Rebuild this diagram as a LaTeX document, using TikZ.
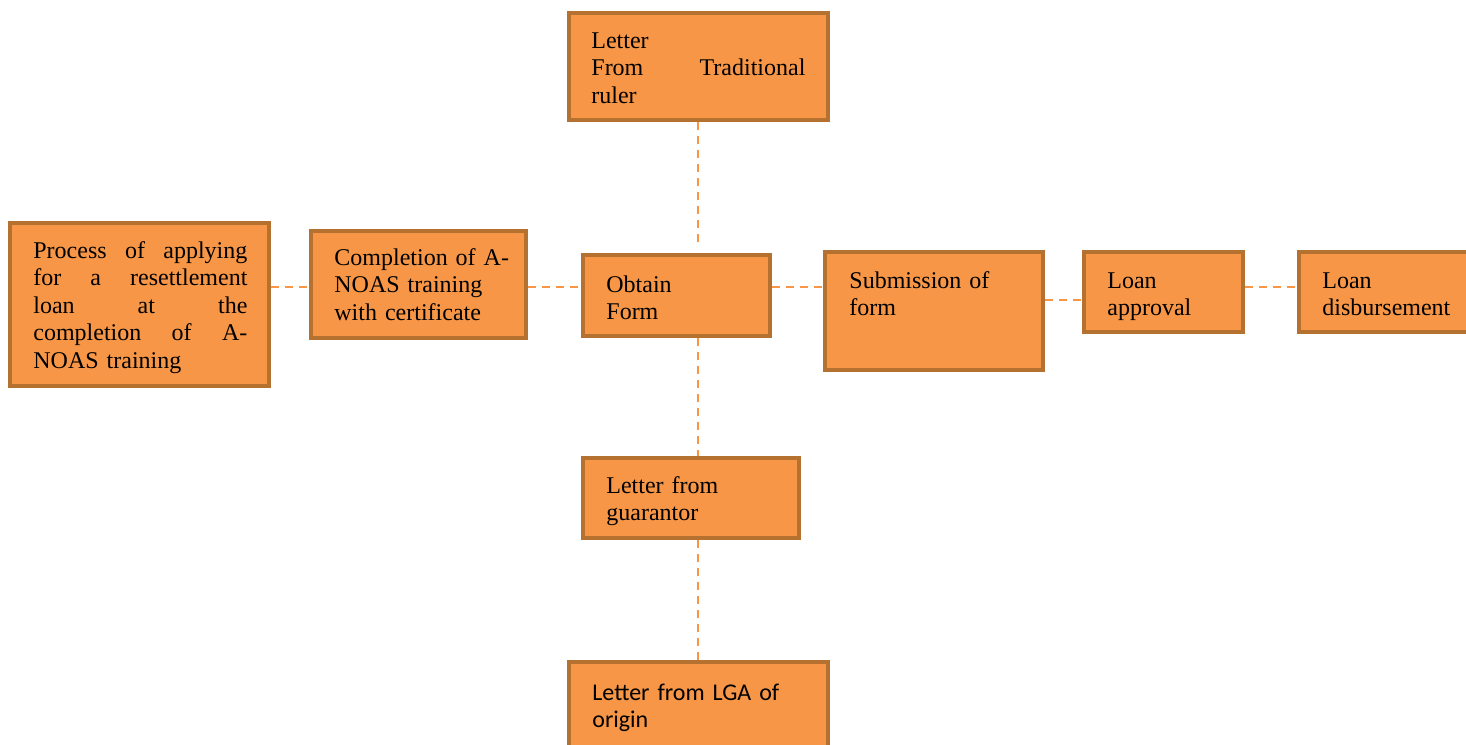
\documentclass[tikz,border=0pt]{standalone}
\usepackage{fontspec}
\setmainfont{Liberation Serif}
\newfontfamily\timesfont{Liberation Serif}
\newfontfamily\calibrifont{Carlito}
\definecolor{boxfill}{HTML}{F79646}
\definecolor{boxline}{HTML}{B5712F}
\begin{document}
\begin{tikzpicture}[x=0.5pt,y=-0.5pt,
  box/.style={draw=boxline, fill=boxfill, line width=2pt, inner sep=0pt, rectangle},
  lab/.style={anchor=north west, inner sep=0pt, align=left, font=\timesfont\fontsize{12}{13.75}\selectfont},
  link/.style={draw=boxfill, line width=1pt, dash pattern=on 4pt off 3pt}]
\clip (0,0) rectangle (1466,744);
\fill[white] (0,0) rectangle (1466,744);
% helper coordinates
\coordinate (hy) at (0,287);
\coordinate (hy2) at (0,300);
\coordinate (vx) at (698,0);
% boxes
\node[box, minimum width=129.5pt, minimum height=53.5pt] (top) at (698.5,66.5) {};
\node[box, minimum width=129.5pt, minimum height=81.5pt] (left) at (139.5,304.5) {};
\node[box, minimum width=107.5pt, minimum height=53.5pt] (comp) at (418.5,284.5) {};
\node[box, minimum width=93.5pt, minimum height=40.5pt] (obtain) at (676.5,295.5) {};
\node[box, minimum width=109pt, minimum height=59pt] (sub) at (934,311) {};
\node[box, minimum width=79.5pt, minimum height=40pt] (appr) at (1163.5,292) {};
\node[box, minimum width=89.5pt, minimum height=40pt] (disb) at (1388.5,292) {};
\node[box, minimum width=108pt, minimum height=40pt] (guar) at (691,498) {};
\node[box, minimum width=129.5pt, minimum height=58pt] (lga) at (698.5,720) {};
% connectors
\draw[link] (left.east |- hy) -- (comp.west |- hy);
\draw[link] (comp.east |- hy) -- (obtain.west |- hy);
\draw[link] (obtain.east |- hy) -- (sub.west |- hy);
\draw[link] (sub.east |- hy2) -- (appr.west |- hy2);
\draw[link] (appr.east |- hy) -- (disb.west |- hy);
\draw[link] (top.south -| vx) -- ([yshift=4pt]obtain.north -| vx);
\draw[link] (obtain.south -| vx) -- (guar.north -| vx);
\draw[link] (guar.south -| vx) -- (lga.north -| vx);
% labels
\node[lab, text width=107pt] (ttop) at (591,28.5) {\strut Letter\\From \hfill Traditional\\ruler};
\node[lab, text width=107pt] (tleft) at (33,238.75) {\strut Process \hfill of \hfill applying\\for \hfill a \hfill resettlement\\loan \hfill at \hfill the\\completion \hfill of \hfill A-\\NOAS training};
\node[lab, text width=95pt] (tcomp) at (334,245.75) {\strut Completion of A-\\NOAS training\\with certificate};
\node[lab, text width=70pt] (tobtain) at (606,272.75) {\strut Obtain\\Form};
\node[lab, text width=90pt] (tsub) at (849,268.75) {\strut Submission of\\form};
\node[lab, text width=65pt] (tappr) at (1107,268.75) {\strut Loan\\approval};
\node[lab, text width=70pt] (tdisb) at (1322,268.75) {\strut Loan\\disbursement};
\node[lab, text width=95pt] (tguar) at (606,473.75) {\strut Letter from\\guarantor};
\node[lab, text width=110pt, font=\calibrifont\fontsize{12}{13.75}\selectfont] (tlga) at (592,680.75) {\strut Letter from LGA of\\origin};
\end{tikzpicture}
\end{document}
